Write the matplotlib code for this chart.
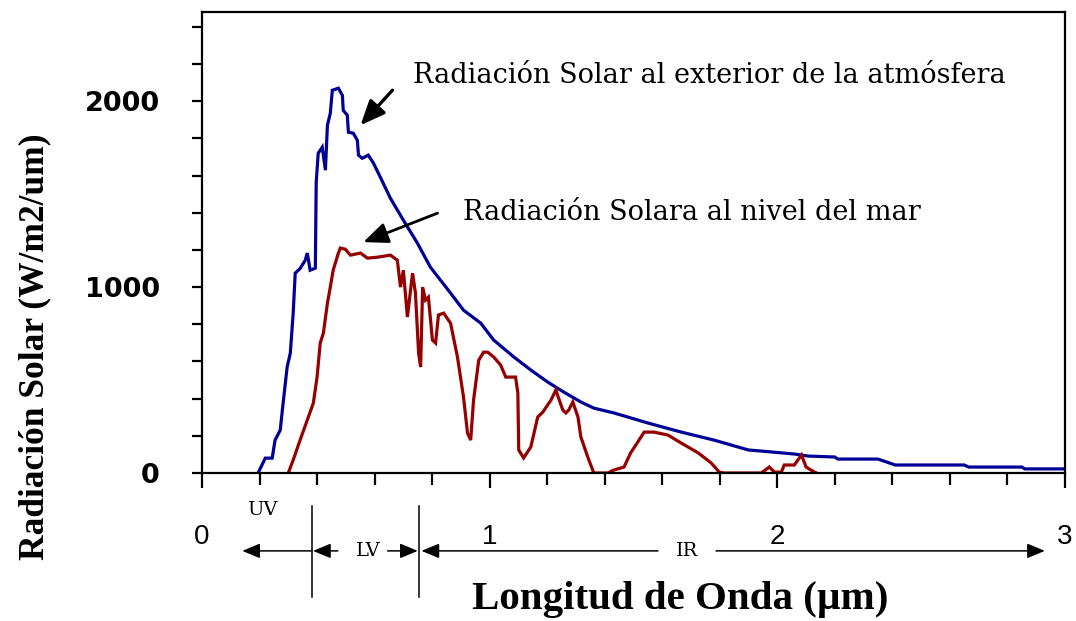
import matplotlib
matplotlib.use("Agg")
import matplotlib.pyplot as plt
import numpy as np

# --- Data ---
# Extraterrestrial solar radiation (W/m2/um) vs wavelength (um)
wl_ext = [0.195, 0.22, 0.244, 0.254, 0.272, 0.282, 0.296, 0.307, 0.317, 0.324,
          0.341, 0.359, 0.366, 0.376, 0.394, 0.397, 0.404, 0.418, 0.429, 0.436,
          0.446, 0.453, 0.474, 0.488, 0.491, 0.505, 0.509, 0.526, 0.54, 0.544,
          0.557, 0.578, 0.596, 0.62, 0.655, 0.70, 0.749, 0.794, 0.864, 0.909,
          0.969, 1.014, 1.084, 1.143, 1.202, 1.258, 1.317, 1.362, 1.432, 1.491,
          1.55, 1.666, 1.78, 1.899, 1.944, 2.06, 2.108, 2.2, 2.21, 2.35,
          2.41, 2.65, 2.665, 2.85, 2.86, 3.0]
rad_ext = [0, 80, 80, 177, 231, 376, 570, 645, 860, 1075,
           1100, 1145, 1183, 1091, 1102, 1564, 1720, 1753, 1629, 1871,
           1935, 2059, 2070, 2032, 1951, 1925, 1833, 1828, 1790, 1710,
           1693, 1710, 1667, 1591, 1478, 1360, 1236, 1107, 968, 876,
           806, 715, 624, 554, 489, 435, 382, 349, 323, 296,
           269, 220, 177, 124, 118, 102, 91, 86, 75, 75,
           43, 43, 32, 32, 22, 22]

# Solar radiation at sea level
wl_sea = [0.30, 0.317, 0.341, 0.366, 0.387, 0.40, 0.411, 0.422, 0.436, 0.446,
          0.456, 0.474, 0.481, 0.498, 0.516, 0.551, 0.575, 0.61, 0.655, 0.679,
          0.69, 0.70, 0.714, 0.732, 0.742, 0.753, 0.76, 0.767, 0.777, 0.787,
          0.801, 0.812, 0.822, 0.84, 0.864, 0.888, 0.909, 0.923, 0.934, 0.944,
          0.962, 0.979, 0.993, 1.014, 1.038, 1.056, 1.09, 1.098, 1.101, 1.118,
          1.143, 1.167, 1.185, 1.213, 1.23, 1.254, 1.265, 1.275, 1.289, 1.307,
          1.317, 1.341, 1.362, 1.41, 1.432, 1.467, 1.49, 1.515, 1.537, 1.571,
          1.62, 1.666, 1.725, 1.77, 1.798, 1.815, 1.944, 1.972, 1.99, 2.014,
          2.024, 2.059, 2.084, 2.10, 2.129, 2.136]
rad_sea = [0, 70, 177, 285, 376, 516, 699, 753, 914, 1000,
           1091, 1183, 1210, 1204, 1172, 1183, 1156, 1161, 1172, 1145,
           1000, 1091, 839, 1075, 968, 645, 570, 1000, 930, 946,
           715, 699, 850, 860, 806, 624, 409, 215, 177, 392,
           607, 650, 650, 624, 581, 516, 516, 430, 124, 81,
           140, 301, 328, 392, 446, 339, 323, 339, 382, 301,
           194, 86, 0, 0, 16, 32, 108, 167, 220, 220,
           204, 161, 108, 54, 5, 0, 0, 32, 5, 5,
           43, 43, 97, 32, 5, 0]

xticks_major = [0, 1, 2, 3]
xtick_labels = ["0", "1", "2", "3"]
yticks_major = [0, 1000, 2000]
ytick_labels = ["0", "1000", "2000"]

label_ext = "Radiación Solar al exterior de la atmósfera"
label_sea = "Radiación Solara al nivel del mar"

# band boundaries (um) for UV / LV / IR indicators
band_uv_start = 0.14
band_lv_start = 0.383
band_ir_start = 0.753
band_ir_end = 2.93

# --- Figure ---
W, H = 1076, 621
fig = plt.figure(figsize=(W / 100, H / 100), dpi=100)
fig.patch.set_facecolor("white")
ax = fig.add_axes([202 / W, 1 - 473 / H, (1065 - 202) / W, (473 - 12) / H])

blue = "#000096"
red = "#960000"
ax.plot(wl_ext, rad_ext, color=blue, lw=2.3, solid_joinstyle="miter")
ax.plot(wl_sea, rad_sea, color=red, lw=2.3, solid_joinstyle="miter")

ax.set_xlim(0, 3)
ax.set_ylim(0, 2480)

for s in ax.spines.values():
    s.set_linewidth(1.6)
    s.set_color("black")

ax.set_xticks(xticks_major)
ax.set_xticklabels(xtick_labels, fontsize=20, family="Liberation Sans")
ax.set_xticks(np.arange(0, 3.01, 0.2), minor=True)
ax.tick_params(axis="x", which="major", direction="out", length=11, width=1.6, pad=26)
ax.tick_params(axis="x", which="minor", direction="out", length=8.5, width=1.6)

ax.set_yticks(yticks_major)
ax.set_yticklabels(ytick_labels, fontsize=19.5, family="DejaVu Sans", fontweight="bold")
ax.set_yticks(np.arange(0, 2401, 200), minor=True)
ax.tick_params(axis="y", which="both", direction="out", length=7.5, width=1.6, pad=23)

ax.set_ylabel("Radiación Solar (W/m2/um)", family="Liberation Serif",
              fontweight="bold", fontsize=25.5, va="center", ha="center")
ax.yaxis.set_label_coords((35 - 202) / 863, (473 - 347) / 461)
ax.set_xlabel("Longitud de Onda (µm)", family="Liberation Serif",
              fontweight="bold", fontsize=29.5, va="center", ha="center")
ax.xaxis.set_label_coords((680 - 202) / 863, (473 - 599) / 461)

# annotations in the plot
ax.annotate("", xy=(0.551, 1871), xytext=(0.662, 2059),
            arrowprops=dict(arrowstyle="-|>,head_length=0.75,head_width=0.32",
                            mutation_scale=20, lw=2.4, color="black",
                            shrinkA=0, shrinkB=0))
ax.text(0.735, 2140, label_ext, family="DejaVu Serif", fontsize=19.5,
        va="center", ha="left")
ax.annotate("", xy=(0.561, 1242), xytext=(0.819, 1398),
            arrowprops=dict(arrowstyle="-|>,head_length=0.75,head_width=0.32",
                            mutation_scale=20, lw=2.0, color="black",
                            shrinkA=0, shrinkB=0))
ax.text(0.906, 1403, label_sea, family="DejaVu Serif", fontsize=19.5,
        va="center", ha="left")

# band indicators below the axis
yb = -419
arr = dict(arrowstyle="-|>,head_length=0.6,head_width=0.25", mutation_scale=18,
           lw=1.1, color="black", shrinkA=0, shrinkB=0)
for xv in (band_lv_start, band_ir_start):
    ax.plot([xv, xv], [-177, -667], color="black", lw=1.1, clip_on=False)
# UV
ax.annotate("", xy=(band_uv_start, yb), xytext=(band_lv_start, yb),
            arrowprops=arr, annotation_clip=False)
ax.text(0.21, -199, "UV", family="DejaVu Serif", fontsize=14, ha="center",
        va="center")
# LV
ax.annotate("", xy=(band_lv_start + 0.003, yb), xytext=(0.472, yb),
            arrowprops=arr, annotation_clip=False)
ax.annotate("", xy=(band_ir_start - 0.003, yb), xytext=(0.645, yb),
            arrowprops=arr, annotation_clip=False)
ax.text(0.578, yb, "LV", family="DejaVu Serif", fontsize=14, ha="center",
        va="center")
# IR
ax.annotate("", xy=(band_ir_start + 0.01, yb), xytext=(1.585, yb),
            arrowprops=arr, annotation_clip=False)
ax.annotate("", xy=(band_ir_end, yb), xytext=(1.787, yb),
            arrowprops=arr, annotation_clip=False)
ax.text(1.686, yb, "IR", family="DejaVu Serif", fontsize=14, ha="center",
        va="center")

fig.savefig("out.png", dpi=100, facecolor="white")
